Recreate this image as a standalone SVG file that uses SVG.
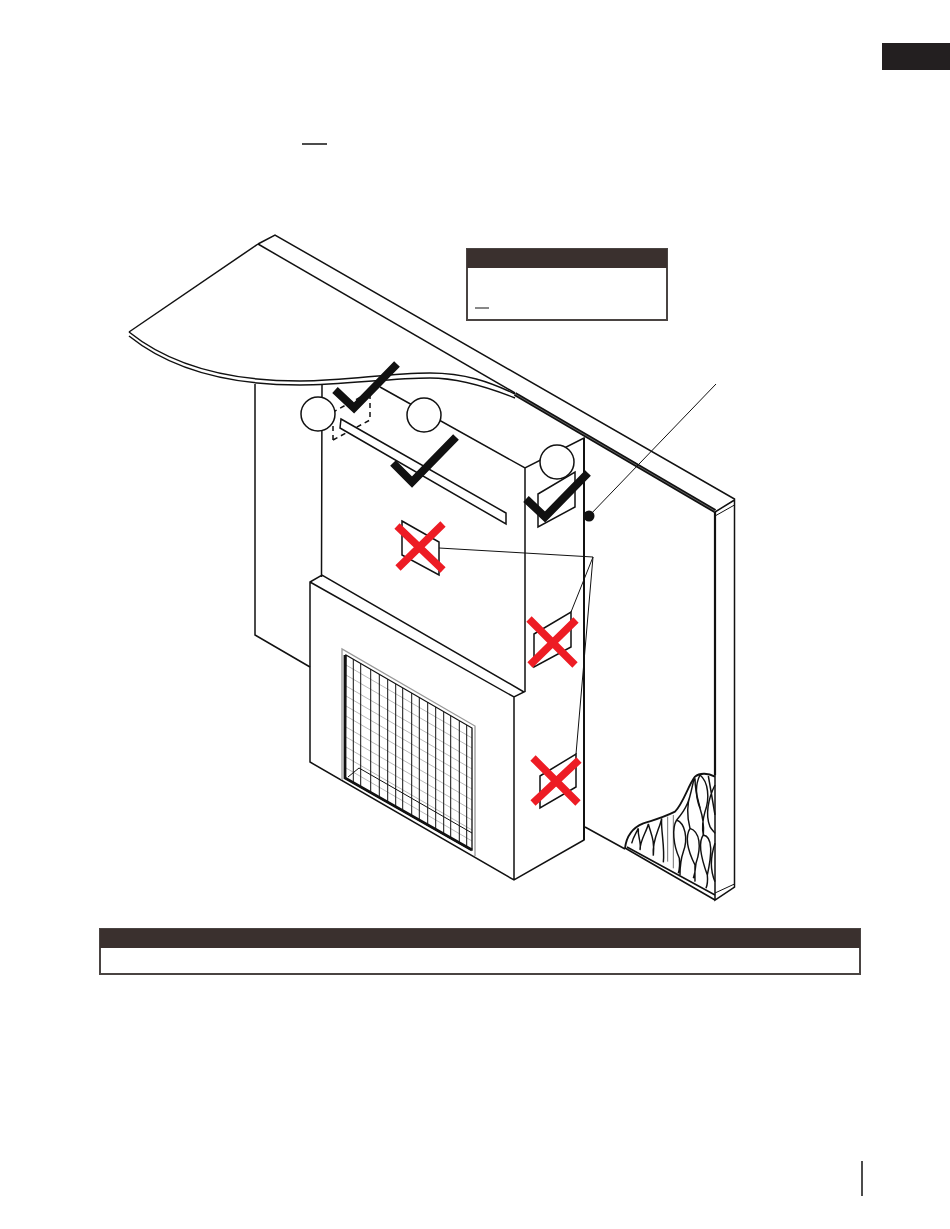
<svg xmlns="http://www.w3.org/2000/svg" width="950" height="1229" viewBox="0 0 950 1229">
<defs><style>
.l{fill:none;stroke:#111;stroke-width:1.5;stroke-linejoin:miter}
.f{fill:#fff;stroke:#111;stroke-width:1.5}
.t{fill:none;stroke:#111;stroke-width:1}
.g{fill:none;stroke:#999;stroke-width:.7}
.b{fill:none;stroke:#111;stroke-width:1}
.in{fill:none;stroke:#111;stroke-width:4.400}
.c{fill:none;stroke:#111;stroke-width:8}
.x{fill:none;stroke:#ed1c24;stroke-width:7.500}
.h{fill:#3a302e}
.box{fill:#fff;stroke:#4a4442;stroke-width:2}
</style></defs>
<rect width="950" height="1229" fill="#fff"/>
<rect x="882" y="43" width="68" height="27" fill="#231f20"/>
<path d="M302 144H327" class="l"/>
<path d="M862 1161V1196" class="l"/>

<g id="wall">
<path d="M258 244L275 235L734.500 499V887L715 900V512L734.500 500" class="l"/>
<path d="M734.500 505L715 516M734.500 884L715 893" class="t"/>
<path d="M258 244L129 332" class="l"/>
<path d="M258 244L515 393" class="l"/>
<path d="M515 394L715 511" fill="none" stroke="#111" stroke-width="4.200"/>
<path d="M515 394L715 511" fill="none" stroke="#777" stroke-width=".8"/>
<path d="M129 332C170 365 225 381 300 381C350 381 385 373 430 373C465 373 490 382 515 394" class="l"/>
<path d="M129 336C170 369 225 385 300 385C345 385 390 378 430 378C460 378 490 388 515 398" class="l"/>
<path d="M255 384V635L310 667" class="l"/>
<path d="M585 827L625 849" class="l"/>
<path d="M715 512V775" fill="none" stroke="#111" stroke-width="2.200"/>
</g>

<g id="insulation">
<path d="M627 847L715 895M625 848L715 900" class="l"/>
<g transform="translate(620 765) scale(.3333)">
<path d="M15 250C20 205 45 185 70 175C100 165 125 160 165 140C190 115 205 60 225 35C240 22 265 25 285 35" fill="none" stroke="#111" stroke-width="5.500"/>
<path d="M35 235C40 215 48 205 55 190C52 215 65 230 60 255C60 225 80 200 85 177C92 205 105 225 100 272C95 225 120 190 125 160C122 195 135 245 130 292" class="in"/>
<path d="M143 155V290M160 150V310" fill="none" stroke="#111" stroke-width="1.800"/>
<path d="M170 165C155 190 160 240 178 280C180 300 178 315 175 325M170 165C195 175 205 220 190 260C183 280 180 310 180 330" class="in"/>
<path d="M210 190C195 215 200 250 225 300C227 320 224 330 220 340M210 190C240 200 245 245 228 295C224 315 224 335 225 350" class="in"/>
<path d="M250 210C235 230 240 270 262 330C264 350 262 360 258 370M250 210C280 215 275 270 262 330M285 235C270 280 272 320 285 350" class="in"/>
<path d="M240 30C225 60 225 90 240 130C250 160 252 185 250 210M240 30C265 50 270 100 255 140C248 165 245 185 250 210" class="in"/>
<path d="M222 42C210 90 210 120 170 165M212 85C200 120 202 160 210 190M225 40C225 90 240 120 240 130" class="in"/>
<path d="M265 33C270 60 275 90 285 150M285 60C265 100 255 150 270 185C275 195 282 200 285 205" class="in"/>
</g>
</g>

<g id="chase">
<path d="M322 384L321.500 577M380 387L525 468L584 438V840L514 880L310 762V582L322 575L524 692L514 697L310 582M514 697V880M525 468V692" class="l"/>
<path d="M584 438L584 840" fill="none" stroke="#111" stroke-width="2"/>
</g>

<g id="grille">
<path d="M342 780V649L475 726V856" fill="none" stroke="#999" stroke-width="1.300"/>
<path d="M346 665L472 738M346 675L472 748M346 686L472 759M346 696L472 769M346 706L472 779M346 716L472 789M346 727L472 800M346 737L472 810M346 747L472 820M346 757L472 830M346 768L472 841" class="g"/>
<path d="M348 777L359 768L472 833" class="t"/>
<path d="M353.300 659V783M360.700 663.500V787M370.700 669V793M379.300 674V797M387.700 679V802M395.700 684V807M402.700 688V811M411.700 693V816M419.300 697V820M427.700 702V825M435.700 707V829M443.700 712V834M450.700 716V838M459.300 721V843M466.700 725V847" class="b"/>
<path d="M346 655L472 728V850L345 778Z" fill="none" stroke="#111" stroke-width="1.300"/>
<path d="M345 655V778L472 850" fill="none" stroke="#111" stroke-width="2.800"/>
<path d="M348 780L469 849" class="t"/>
</g>

<g id="openings">
<path d="M333 440L370 420V392L333 412Z" fill="none" stroke="#111" stroke-width="1.500" stroke-dasharray="5 4"/>
<path d="M341 419L506 513V524L340 428Z" class="f"/>
<path d="M402 521L439 542V575L402 555Z" class="f"/>
<path d="M534 634L571 612V647L534 667Z" class="f"/>
<path d="M540 776L576 754V787L540 808Z" class="f"/>
<path d="M538 494L575 472V507L538 527Z" class="f"/>
</g>

<g id="leaders">
<path d="M439 548L593 557L571 612M593 557L576 754" class="t"/>
<path d="M716 384L589 516" class="t"/>
<circle cx="589" cy="516" r="5.500" fill="#111"/>
</g>

<g id="node-a"><circle cx="318" cy="414" r="17" class="f"/></g>
<g id="node-b"><circle cx="424" cy="415" r="17" class="f"/></g>
<g id="node-c"><circle cx="557" cy="462" r="17" class="f"/></g>

<g id="checks">
<path d="M335 390L354 408L397 364" class="c"/>
<path d="M393 463L412 482L456 437" class="c"/>
<path d="M526 499L545 517L588 473" class="c"/>
</g>
<g id="crosses">
<path d="M397 526L443 570M443 524L398 568" class="x"/>
<path d="M529 619L575 665M576 620L530 665" class="x"/>
<path d="M533 758L578 803M579 760L533 803" class="x"/>
</g>

<g id="callout">
<rect x="467" y="249" width="200" height="71" class="box"/>
<rect x="467" y="249" width="200" height="19" class="h"/>
<path d="M475 308H489" class="t"/>
</g>
<g id="warning">
<rect x="100" y="929" width="760" height="45" class="box"/>
<rect x="100" y="929" width="760" height="19" class="h"/>
</g>
</svg>
